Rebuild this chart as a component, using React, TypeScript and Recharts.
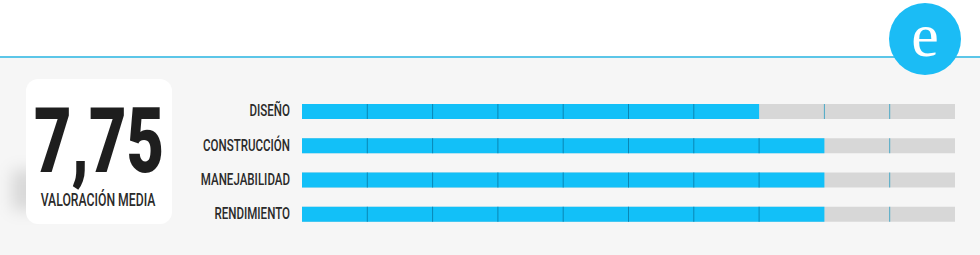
import { Bar, BarChart, XAxis, YAxis } from "recharts";

// Ratings out of 10
const categories = ["DISEÑO", "CONSTRUCCIÓN", "MANEJABILIDAD", "RENDIMIENTO"];
const scores = [7, 8, 8, 8];
const maxScore = 10;
const averageLabel = "7,75";
const averageCaption = "VALORACIÓN MEDIA";

const data = categories.map((name, i) => ({ name, score: scores[i] }));

const BLUE = "#12c0f8";
const TRACK = "#d7d7d7";

// bar with segmented track: gray background, blue fill, thin dividers per point
function SegmentedBar(props: any) {
  const { x, y, height, background, payload } = props;
  const bg = background || { x, y, width: 0, height };
  const step = bg.width / maxScore;
  const fillW = step * payload.score;
  const dividers = [];
  for (let i = 1; i < maxScore; i++) {
    if (i === payload.score) continue;
    const onFill = i < payload.score;
    dividers.push(
      <line
        key={i}
        x1={bg.x + step * i}
        x2={bg.x + step * i}
        y1={y}
        y2={y + height}
        stroke={onFill ? "#0a86b4" : "#4aa8c6"}
        strokeWidth={1}
      />
    );
  }
  return (
    <g>
      <rect x={bg.x} y={y} width={bg.width} height={height} fill={TRACK} />
      <rect x={bg.x} y={y} width={fillW} height={height} fill={BLUE} />
      {dividers}
    </g>
  );
}

function CategoryTick(props: any) {
  const { x, y, payload } = props;
  return (
    <text
      x={0}
      y={0}
      transform={`translate(${x},${y}) scale(0.68,1)`}
      textAnchor="end"
      dominantBaseline="central"
      fontFamily="Roboto, sans-serif"
      fontWeight={500}
      fontSize={17}
      fill="#2a2a2a"
    >
      {payload.value}
    </text>
  );
}

export default function App() {
  return (
    <div
      style={{
        position: "absolute",
        left: 0,
        top: 0,
        width: 980,
        height: 255,
        background: "#ffffff",
        overflow: "hidden",
        fontFamily: "Roboto, sans-serif",
      }}
    >
      {/* lower panel */}
      <div
        style={{
          position: "absolute",
          left: 0,
          top: 58,
          width: 980,
          height: 197,
          background: "#f6f6f6",
        }}
      />
      <div
        style={{
          position: "absolute",
          left: 0,
          top: 56,
          width: 980,
          height: 2,
          background: "#5cc6e8",
        }}
      />
      {/* logo */}
      <svg
        style={{ position: "absolute", left: 880, top: 0 }}
        width={90}
        height={80}
      >
        <circle cx={45} cy={39} r={36} fill="#1bbcf5" />
        <text
          x={45}
          y={56}
          textAnchor="middle"
          fontFamily="'Liberation Serif', 'DejaVu Serif', serif"
          fontSize={62}
          fill="#ffffff"
        >
          e
        </text>
      </svg>
      {/* score card */}
      <div
        style={{
          position: "absolute",
          left: 12,
          top: 170,
          width: 30,
          height: 40,
          background: "rgba(0,0,0,0.12)",
          filter: "blur(8px)",
        }}
      />
      <div
        style={{
          position: "absolute",
          left: 26,
          top: 79,
          width: 146,
          height: 145,
          background: "#ffffff",
          borderRadius: 12,
        }}
      />
      <svg
        style={{ position: "absolute", left: 0, top: 0 }}
        width={200}
        height={255}
      >
        <text
          x={0}
          y={0}
          transform="translate(99,172) scale(0.72,1)"
          textAnchor="middle"
          fontFamily="Roboto, sans-serif"
          fontWeight={900}
          fontSize={90}
          fill="#1e1e1e"
        >
          {averageLabel}
        </text>
        <text
          x={0}
          y={0}
          transform="translate(98,206) scale(0.68,1)"
          textAnchor="middle"
          fontFamily="Roboto, sans-serif"
          fontWeight={500}
          fontSize={18}
          fill="#2a2a2a"
        >
          {averageCaption}
        </text>
      </svg>
      {/* ratings */}
      <div style={{ position: "absolute", left: 180, top: 94 }}>
        <BarChart
          width={775}
          height={137}
          data={data}
          layout="vertical"
          margin={{ top: 0, right: 0, left: 0, bottom: 0 }}
          barCategoryGap={0}
        >
          <XAxis type="number" domain={[0, maxScore]} hide />
          <YAxis
            type="category"
            dataKey="name"
            width={122}
            axisLine={false}
            tickLine={false}
            tickSize={6}
            tickMargin={6}
            tick={<CategoryTick />}
          />
          <Bar
            dataKey="score"
            barSize={15}
            background={{ fill: "transparent" }}
            shape={<SegmentedBar />}
            isAnimationActive={false}
          />
        </BarChart>
      </div>
    </div>
  );
}
